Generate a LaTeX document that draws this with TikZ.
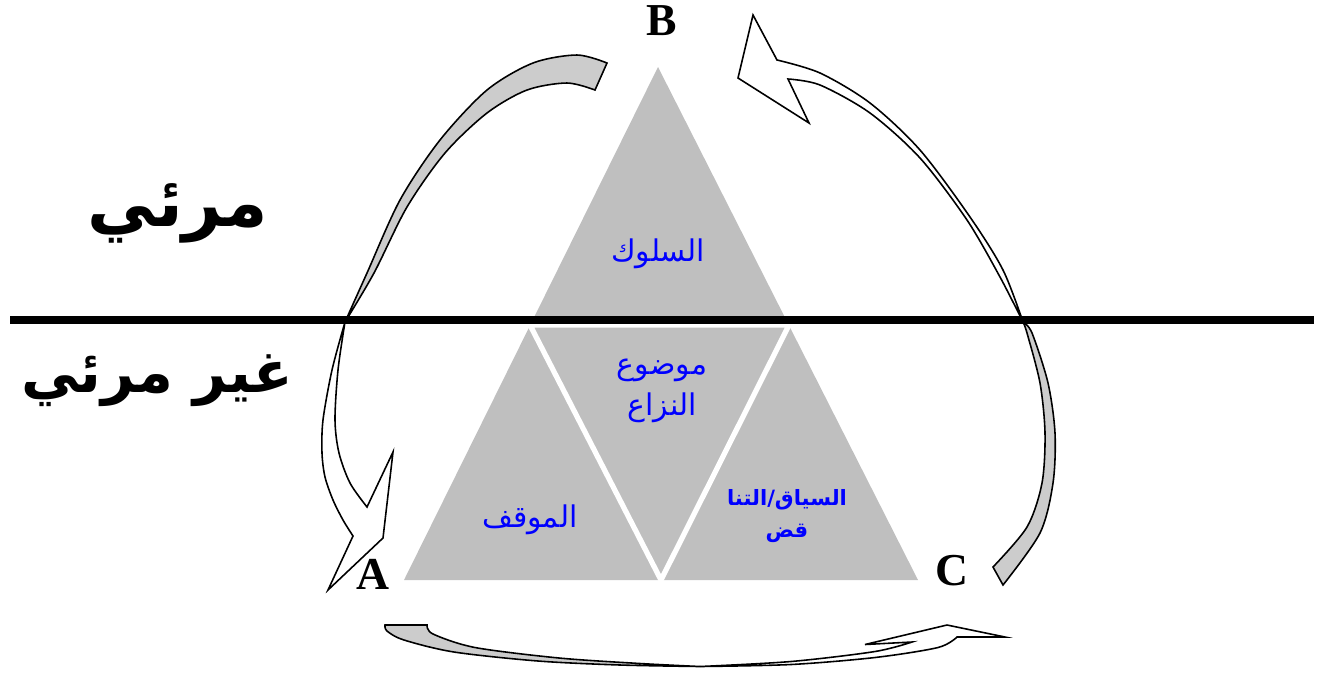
\documentclass[tikz,border=0pt]{standalone}
\usepackage{fontspec}
\newfontfamily\arfont[Script=Arabic]{DejaVu Sans}
\newfontfamily\lettfont{Liberation Serif}
\TeXXeTstate=1
\definecolor{trigray}{RGB}{191,191,191}
\definecolor{arrgray}{RGB}{204,204,204}
\definecolor{txtblue}{RGB}{0,0,255}
\tikzset{
  arrline/.style={draw=black,line width=0.9pt,line join=miter},
  graypart/.style={arrline,fill=arrgray},
  whitepart/.style={arrline,fill=white},
  letter/.style={font=\lettfont\bfseries\fontsize{26}{30}\selectfont,inner sep=0pt},
  bluelbl/.style={text=txtblue,font=\arfont\fontsize{17}{23}\selectfont,align=center,inner sep=0pt},
  blueboldlbl/.style={text=txtblue,font=\arfont\bfseries\fontsize{12}{18}\selectfont,align=center,inner sep=0pt},
  bigblack/.style={font=\arfont\bfseries\fontsize{39}{44}\selectfont,inner sep=0pt},
  bigblacktwo/.style={font=\arfont\bfseries\fontsize{33}{40}\selectfont,inner sep=0pt},
}
\begin{document}
\begin{tikzpicture}[x=0.02cm,y=-0.02cm]
\useasboundingbox (0,0) rectangle (1328,674);
% big triangle split into four
\coordinate (T) at (658,67);
\coordinate (L) at (404,580);
\coordinate (R) at (918,580);
\coordinate (M1) at (530,325);
\coordinate (M2) at (789,325);
\coordinate (M3) at (661,580);
\fill[trigray] (T) -- (L) -- (R) -- cycle;
\draw[white,line width=3pt] (M1) -- (M2) -- (M3) -- cycle;
% horizontal line
\coordinate (H1) at (10,320);
\coordinate (H2) at (1314,320);
\draw[black,line width=4pt] (H1) -- (H2);
% labels
\node[letter] (B) at (662,21) {B};
\node[letter] (A) at (373,574) {A};
\node[letter] (C) at (952,571) {C};
\node[bigblack] (vis) at (178,213) {\beginR مرئي\endR};
\node[bigblacktwo] (invis) at (157,381) {\beginR غير مرئي\endR};
\node[bluelbl] (beh) at (658,254) {\beginR السلوك\endR};
\node[bluelbl] (subj) at (662,391) {\beginR موضوع\endR\\\beginR النزاع\endR};
\node[bluelbl] (att) at (530,520) {\beginR الموقف\endR};
\node[blueboldlbl] (ctx) at (787,516) {\beginR السياق/التنا\endR\\\beginR قض\endR};
% arrow B -> A
\filldraw[graypart] plot[smooth] coordinates {(607,63) (577,55) (533,63) (487,90) (440,140) (400,200) (367,273) (345,322)}
  -- plot[smooth] coordinates {(345,322) (374,273) (407,207) (445,153) (487,113) (527,90) (567,83) (595,90)} -- cycle;
\filldraw[whitepart] plot[smooth] coordinates {(345,322) (332,370) (323,420) (322,453) (325,477) (333,500) (343,520) (353,536)}
  -- (328,590) -- (383,538) -- (393,452)
  -- plot[smooth] coordinates {(367,507) (350,483) (339,453) (335,420) (338,370) (345,322)} -- cycle;
% arrow C -> B
\filldraw[graypart] plot[smooth] coordinates {(1023,322) (1027,333) (1040,383) (1045,433) (1042,483) (1027,527) (993,567)}
  -- (1003,585)
  -- plot[smooth] coordinates {(1003,585) (1040,533) (1053,483) (1055,433) (1048,383) (1032,333) (1023,322)} -- cycle;
\filldraw[whitepart] plot[smooth] coordinates {(1023,322) (1003,270) (970,217) (920,150) (870,103) (820,73) (777,60)}
  -- (753,15) -- (738,78) -- (809,123)
  -- plot[smooth] coordinates {(788,79) (820,85) (870,113) (920,158) (967,220) (1000,277) (1023,322)} -- cycle;
% arrow A -> C
\filldraw[graypart] plot[smooth] coordinates {(385,625) (387,631) (404,640) (454,652) (538,661) (620,665) (700,666.5)}
  -- plot[smooth] coordinates {(700,666.5) (640,663.5) (559,658) (475,647.5) (433,634) (427,625)} -- cycle;
\filldraw[whitepart] plot[smooth] coordinates {(700,666.5) (791,664.5) (875,657.5) (938,647.5) (957,637)}
  -- (1005,637) -- (947,625) -- (865,644.5)
  -- plot[smooth] coordinates {(912,642) (875,651.5) (791,661.5) (700,666.5)} -- cycle;
\end{tikzpicture}
\end{document}
